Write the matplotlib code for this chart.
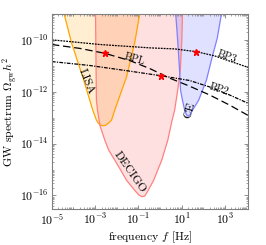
import numpy as np
import matplotlib
matplotlib.use('Agg')
import matplotlib.pyplot as plt
from matplotlib.ticker import LogLocator, NullFormatter, FixedLocator

plt.rcParams['font.family'] = 'serif'
plt.rcParams['font.serif'] = ['cmr10', 'DejaVu Serif']
plt.rcParams['mathtext.fontset'] = 'cm'
plt.rcParams['axes.formatter.use_mathtext'] = True

# sensitivity curves, log10 f [Hz] and log10 Omega h^2
lisa_logf = [-4.60, -4.43, -4.09, -3.57, -3.11, -2.94, -2.86, -2.76, -2.64, -2.52, -2.40, -2.24, -2.09,
             -1.55, -1.17, -0.94, -0.85]
lisa_logom = [-8.5, -9.0, -10.11, -11.43, -12.70, -13.09, -13.20, -13.28, -13.31, -13.29, -13.22, -13.09,
              -12.70, -11.43, -10.11, -9.0, -8.5]

decigo_logf = [-2.99, -2.98, -2.96, -2.94, -2.89, -2.78, -2.55, -2.37, -2.09, -1.81, -1.55, -1.17,
               -0.98, -0.83, -0.70, -0.57, -0.29, 0.08, 0.36, 0.54, 0.68, 0.82, 0.94, 1.01, 1.04, 1.05]
decigo_logom = [-8.5, -9.0, -10.77, -12.32, -12.70, -13.29, -13.87, -14.25, -14.64, -15.03, -15.41, -15.80,
                -15.98, -16.05, -16.02, -15.84, -15.41, -14.64, -13.87, -13.17, -12.70, -11.93, -11.16,
                -10.0, -9.0, -8.5]

ce_logf = [0.70, 0.73, 0.81, 0.91, 0.95, 1.04, 1.14, 1.22, 1.30, 1.40, 1.51, 1.79, 2.15, 2.38, 2.65, 2.84, 2.92]
ce_logom = [-8.5, -9.0, -9.92, -11.23, -11.93, -12.32, -12.70, -12.88, -12.94, -12.88, -12.70, -12.32,
            -11.54, -10.77, -9.92, -9.0, -8.5]

# benchmark spectra
bpl_logf = [-5.0, -3.71, -2.55, -1.40, -0.47, 0.45, 1.37, 2.30, 3.22, 4.1]
bpl_logom = [-10.17, -10.32, -10.51, -10.79, -11.10, -11.47, -11.78, -12.12, -12.51, -12.92]

bp2_logf = [-5.0, -3.25, -1.55, 0.07, 1.37, 2.30, 3.22, 4.1]
bp2_logom = [-10.83, -10.98, -11.18, -11.38, -11.56, -11.81, -12.12, -12.45]

bp3_logf = [-5.0, -2.78, -0.47, 0.68, 1.70, 2.53, 3.22, 4.1]
bp3_logom = [-9.99, -10.17, -10.30, -10.34, -10.45, -10.61, -10.81, -11.06]

peak_logf = [-2.55, 0.07, 1.68]
peak_logom = [-10.51, -11.38, -10.45]

fig = plt.figure(figsize=(2.66, 2.45), dpi=100)
ax = fig.add_axes([0.195, 0.147, 0.738, 0.795])

for lf, lo, c, ec in [(lisa_logf, lisa_logom, 'orange', 'orange'),
                      (decigo_logf, decigo_logom, 'red', '#ff8080'),
                      (ce_logf, ce_logom, 'blue', '#8080ff')]:
    f = 10.0 ** np.array(lf)
    om = 10.0 ** np.array(lo)
    ax.fill(f, om, color=c, alpha=0.12 if c != 'orange' else 0.18, lw=0)
    ax.plot(f, om, color=ec, lw=0.9)

ax.plot(10.0 ** np.array(bpl_logf), 10.0 ** np.array(bpl_logom), color='k', lw=0.9,
        ls=(0, (6, 3)))
ax.plot(10.0 ** np.array(bp2_logf), 10.0 ** np.array(bp2_logom), color='k', lw=0.9,
        ls=(0, (3, 1, 1, 1)))
ax.plot(10.0 ** np.array(bp3_logf), 10.0 ** np.array(bp3_logom), color='k', lw=0.9,
        ls=(0, (1.5, 0.8)))
ax.plot(10.0 ** np.array(peak_logf), 10.0 ** np.array(peak_logom), ls='none', marker='*',
        color='red', ms=4.5)

ax.set_xscale('log')
ax.set_yscale('log')
ax.set_xlim(1e-5, 1.2e4)
ax.set_ylim(3e-17, 1e-9)

ax.xaxis.set_major_locator(FixedLocator([1e-5, 1e-3, 1e-1, 1e1, 1e3]))
ax.yaxis.set_major_locator(FixedLocator([1e-16, 1e-14, 1e-12, 1e-10]))
ax.xaxis.set_minor_locator(LogLocator(base=10, subs=np.arange(1, 10), numticks=50))
ax.yaxis.set_minor_locator(LogLocator(base=10, subs=np.arange(1, 10), numticks=50))
ax.xaxis.set_minor_formatter(NullFormatter())
ax.yaxis.set_minor_formatter(NullFormatter())
ax.tick_params(which='both', direction='in', top=True, right=True, color='gray',
               labelsize=8.5, pad=2.5)
ax.tick_params(which='major', length=3, width=0.6)
ax.tick_params(which='minor', length=1.5, width=0.5)
for s in ax.spines.values():
    s.set_color('gray')
    s.set_linewidth(0.8)

ax.set_xlabel('frequency $f$ [Hz]', fontsize=8.5, labelpad=1)
ax.set_ylabel(r'GW spectrum $\Omega_{\rm gw}h^2$', fontsize=8.5, labelpad=0)

ax.text(10 ** -3.42, 10 ** -11.6, 'LISA', rotation=-68, fontsize=8.5, ha='center', va='center')
ax.text(10 ** -1.42, 10 ** -15.1, 'DECIGO', rotation=-55, fontsize=8.5, ha='center', va='center')
ax.text(10 ** 1.38, 10 ** -12.7, 'CE', rotation=75, fontsize=8.5, ha='center', va='center')
ax.text(10 ** -1.2, 10 ** -10.72, 'BPL', rotation=-16, fontsize=7.5, ha='center', va='center')
ax.text(10 ** 3.1, 10 ** -10.65, 'BP3', rotation=-20, fontsize=7.5, ha='center', va='center')
ax.text(10 ** 2.75, 10 ** -11.9, 'BP2', rotation=-18, fontsize=7.5, ha='center', va='center')

fig.savefig('out.png', dpi=100)
